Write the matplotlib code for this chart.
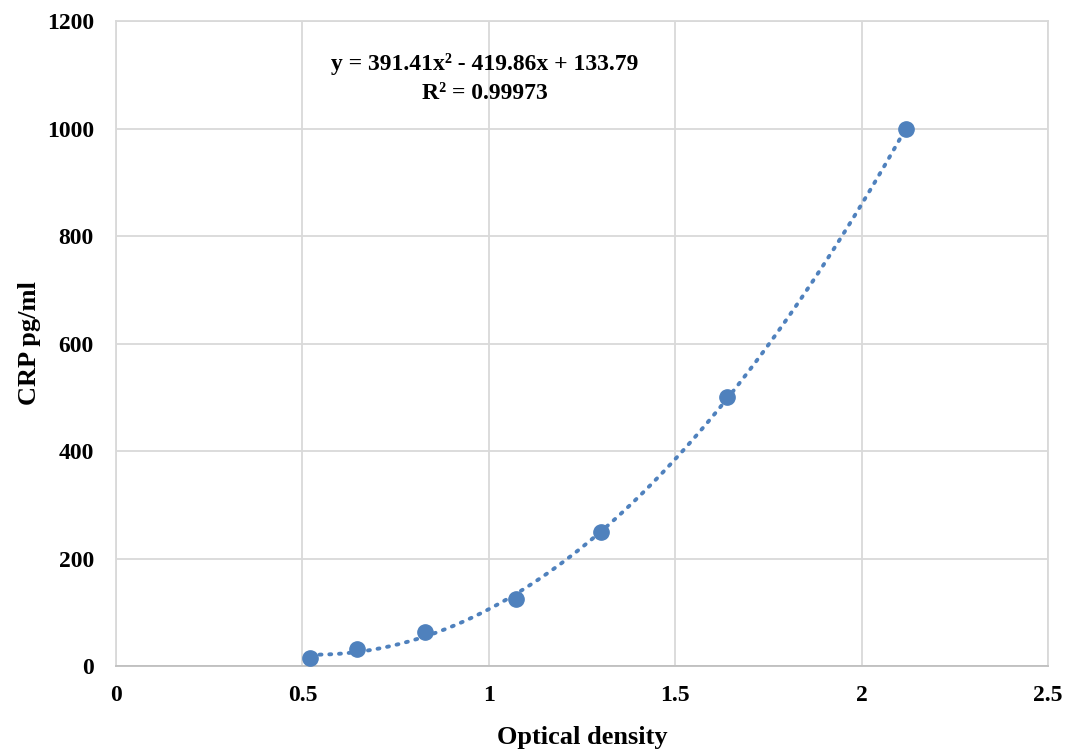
import numpy as np
import matplotlib.pyplot as plt

od = [0.52, 0.646, 0.829, 1.073, 1.301, 1.639, 2.119]
crp = [15.6, 31.25, 62.5, 125, 250, 500, 1000]
x_ticks = [0, 0.5, 1, 1.5, 2, 2.5]
x_labels = ["0", "0.5", "1", "1.5", "2", "2.5"]
y_ticks = [0, 200, 400, 600, 800, 1000, 1200]

plt.rcParams['font.family'] = ['Liberation Serif', 'DejaVu Serif']
plt.rcParams['font.weight'] = 'bold'

fig = plt.figure(figsize=(10.72, 7.54), dpi=100)
ax = fig.add_axes([0.1082, 0.1167, 0.8694, 0.8554])

blue = '#4F81BD'

# polynomial trendline (order 2)
coef = np.polyfit(od, crp, 2)
xs = np.linspace(min(od), max(od), 200)
ax.plot(xs, np.polyval(coef, xs), linestyle=(0, (0.5, 2.0)), color=blue,
        lw=2.8, dash_capstyle='round', zorder=2)
ax.plot(od, crp, 'o', color=blue, markersize=11, zorder=3)

ax.set_xlim(0, 2.5)
ax.set_ylim(0, 1200)
ax.set_xticks(x_ticks)
ax.set_xticklabels(x_labels)
ax.set_yticks(y_ticks)
ax.grid(True, color='#d9d9d9', lw=1.3)
ax.set_axisbelow(True)
for s in ax.spines.values():
    s.set_color('#d9d9d9')
    s.set_linewidth(1.3)
ax.spines['bottom'].set_color('#bfbfbf')
ax.tick_params(length=0, labelsize=17)
ax.tick_params(axis='x', pad=14)
ax.tick_params(axis='y', pad=16)
for lbl in ax.get_xticklabels() + ax.get_yticklabels():
    lbl.set_fontweight('bold')

ax.set_xlabel("Optical density", fontsize=19, fontweight='bold', labelpad=14)
ax.set_ylabel("CRP pg/ml", fontsize=19, fontweight='bold', labelpad=4)

ax.text(0.99, 1093, "y = 391.41x² - 419.86x + 133.79\nR² = 0.99973",
        ha='center', va='center', fontsize=17, fontweight='bold',
        linespacing=1.5)

fig.savefig("out.png", dpi=100)
